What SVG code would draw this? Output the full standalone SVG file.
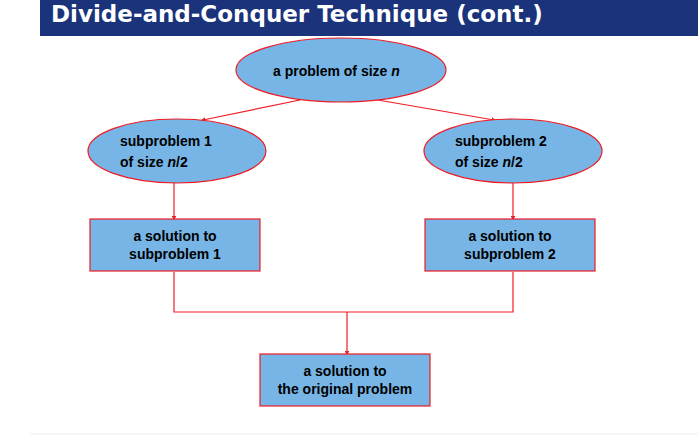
<svg xmlns="http://www.w3.org/2000/svg" width="698" height="436" viewBox="0 0 698 436">
<style>
.n{fill:#77b5e6;stroke:#ee1c25;stroke-width:1.2}
.t{font-family:"Liberation Sans",Arial,sans-serif;font-weight:bold;font-size:14px;fill:#000}
.c{stroke:#ee1c25;stroke-width:1.2;fill:none}
</style>
<defs><marker id="a" markerWidth="4" markerHeight="4" refX="2" refY="2" orient="auto"><path d="M0,0L4,2L0,4z" fill="#ee1c25"/></marker></defs>
<rect width="698" height="436" fill="#fff"/>
<rect x="40" y="0" width="658" height="36" fill="#1a337a"/>
<text x="51" y="22" font-family="'DejaVu Sans',sans-serif" font-weight="bold" font-size="23" fill="#fff">Divide-and-Conquer Technique (cont.)</text>
<line x1="30" y1="434" x2="698" y2="434" stroke="#eee"/>
<g id="connectors">
<line class="c" x1="300" y1="100" x2="203" y2="120" marker-end="url(#a)"/>
<line class="c" x1="372" y1="99" x2="494" y2="120" marker-end="url(#a)"/>
<line class="c" x1="174" y1="183" x2="174" y2="218" marker-end="url(#a)"/>
<line class="c" x1="513" y1="183" x2="513" y2="218" marker-end="url(#a)"/>
<polyline class="c" points="174,272 174,312 513,312 513,272"/>
<line class="c" x1="347" y1="312" x2="347" y2="353" marker-end="url(#a)"/>
</g>
<g id="top"><ellipse class="n" cx="341" cy="70" rx="105" ry="32"/><text class="t" x="273" y="76">a problem of size <tspan font-style="italic">n</tspan></text></g>
<g id="sub1"><ellipse class="n" cx="177" cy="151" rx="89" ry="32"/><text class="t" x="120" y="146">subproblem 1</text><text class="t" x="120" y="167">of size <tspan font-style="italic">n</tspan>/2</text></g>
<g id="sub2"><ellipse class="n" cx="513" cy="151" rx="89" ry="32"/><text class="t" x="455" y="146">subproblem 2</text><text class="t" x="455" y="167">of size <tspan font-style="italic">n</tspan>/2</text></g>
<g id="sol1"><rect class="n" x="90" y="219" width="170" height="52"/><text class="t" text-anchor="middle" x="175" y="241">a solution to</text><text class="t" text-anchor="middle" x="175" y="259">subproblem 1</text></g>
<g id="sol2"><rect class="n" x="425" y="219" width="170" height="52"/><text class="t" text-anchor="middle" x="510" y="241">a solution to</text><text class="t" text-anchor="middle" x="510" y="259">subproblem 2</text></g>
<g id="final"><rect class="n" x="260" y="354" width="170" height="52"/><text class="t" text-anchor="middle" x="345" y="376">a solution to</text><text class="t" text-anchor="middle" x="345" y="394">the original problem</text></g>
</svg>
